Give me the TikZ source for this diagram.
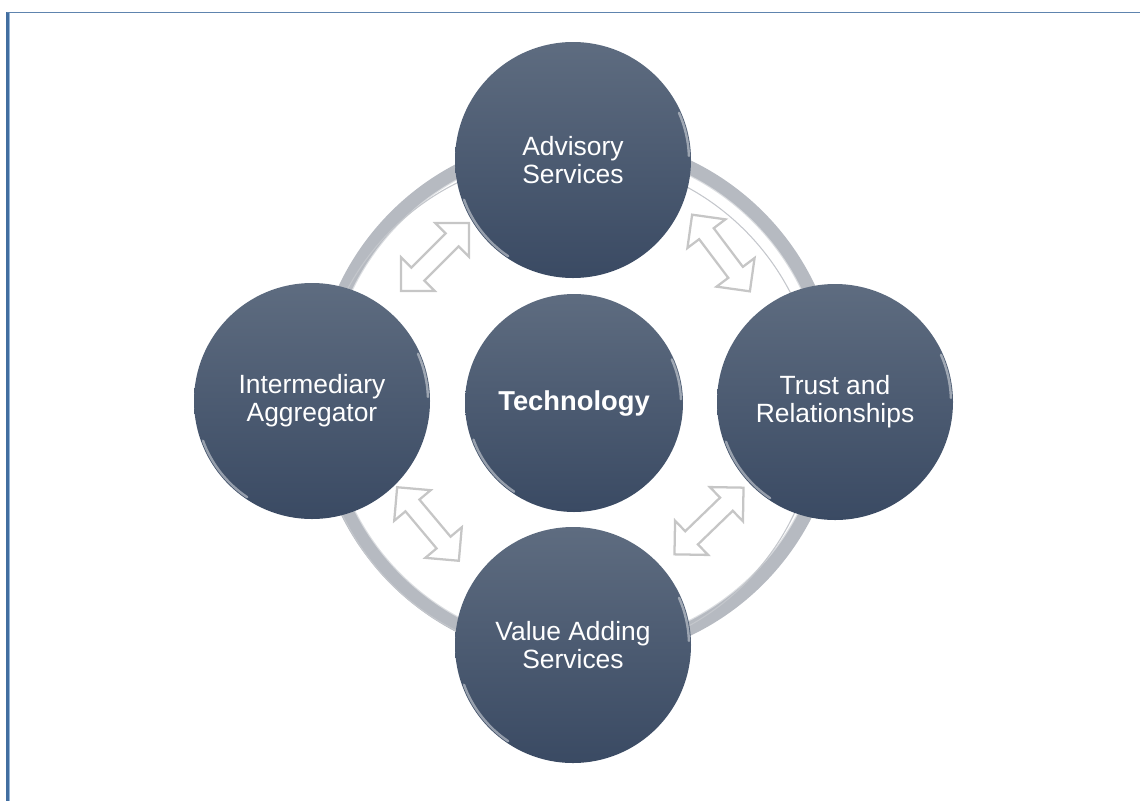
\documentclass[tikz,border=0pt]{standalone}
\usepackage{fontspec}
\setmainfont{Liberation Sans}
\usetikzlibrary{shapes.arrows,calc}

\definecolor{discTop}{RGB}{94,108,128}
\definecolor{discBot}{RGB}{58,74,99}
\definecolor{ringGray}{RGB}{182,186,193}
\definecolor{ringLine}{RGB}{196,199,204}
\definecolor{arrowGray}{RGB}{198,198,198}
\definecolor{frameDark}{RGB}{66,110,160}
\definecolor{frameLight}{RGB}{150,182,216}

\begin{document}
\begin{tikzpicture}[x=0.75pt,y=0.75pt,yscale=-1,xscale=1,
  disc/.style={circle, minimum size=177pt, inner sep=0pt, outer sep=0pt, top color=discTop, bottom color=discBot, text=white, align=center, font=\fontsize{19.8}{21}\selectfont},
  hub/.style={disc, minimum size=163.5pt, font=\fontsize{20.5}{21}\selectfont\bfseries},
  dblarrow/.style={double arrow, draw=arrowGray, line width=1.7pt, fill=white, double arrow tip angle=90, double arrow head extend=11pt, inner sep=6pt, minimum height=72pt},
  glint/.style={white, opacity=0.45, line width=1.8pt, line cap=round}]
\useasboundingbox (0,0) rectangle (1140,801);

%Straight Lines [frame]
\draw [frameDark, line width=2pt] (7.5,12) -- (7.5,801) ;
\draw [frameLight, line width=1pt] (9.6,13) -- (9.6,801) ;
\draw [frameDark!85!white, line width=1pt] (7,12.5) -- (1140,12.5) ;

%Shape: Circle [ring]
\coordinate (ctr) at (573,402);
\draw [ringGray, line width=11pt] ($(ctr)+(4,-4)$) circle (256) ;
\draw [white, opacity=0.5, line width=1pt] ($(ctr)+(4,-4)$) circle (249) ;
\draw [ringLine, line width=0.8pt] ($(ctr)+(-5,5)$) circle (250) ;

%Double arrows
\node [dblarrow, rotate=45] (aL) at (435,257) {};
\node [dblarrow, rotate=-53] (aR) at (721,253) {};
\node [dblarrow, rotate=-50] (bL) at (428,524) {};
\node [dblarrow, rotate=44] (bR) at (709,521) {};

%Shape: Circle [discs]
\node [disc] (adv) at (573,160) {Advisory\\Services};
\node [disc] (inter) at (312,401) {Intermediary\\Aggregator};
\node [disc] (trust) at (835,402) {Trust and\\Relationships};
\node [disc] (value) at (573,645) {Value Adding\\Services};
\node [hub] (tech) at (574,403) {Technology};

%rim highlights
\foreach \n/\r in {adv/116,inter/116,trust/116,value/116,tech/107}{
  \draw [glint] ($(\n)+(-200:\r)$) arc[start angle=-200, end angle=-236, radius=\r] ;
  \draw [glint] ($(\n)+(-2:\r)$) arc[start angle=-2, end angle=-24, radius=\r] ;
}

\end{tikzpicture}
\end{document}
